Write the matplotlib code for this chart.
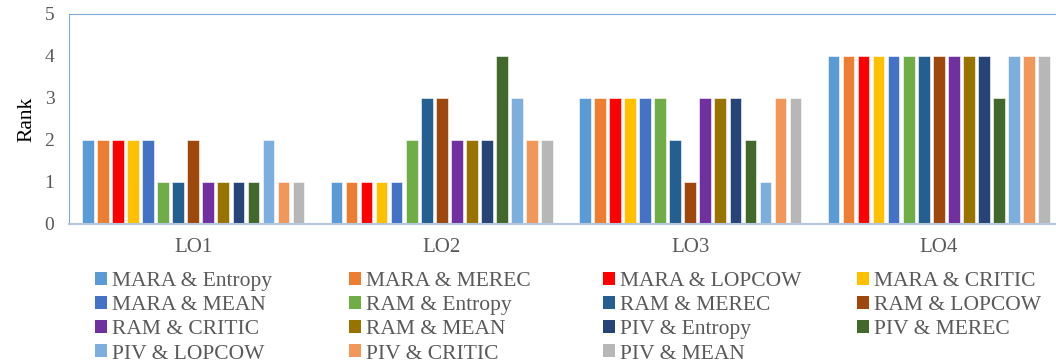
import matplotlib
matplotlib.use("Agg")
import matplotlib.pyplot as plt
import numpy as np
from matplotlib.patches import Patch

plt.rcParams["font.family"] = ["Liberation Serif", "DejaVu Serif"]

# data
groups = ["LO1", "LO2", "LO3", "LO4"]
series = ["MARA & Entropy", "MARA & MEREC", "MARA & LOPCOW", "MARA & CRITIC",
          "MARA & MEAN", "RAM & Entropy", "RAM & MEREC", "RAM & LOPCOW",
          "RAM & CRITIC", "RAM & MEAN", "PIV & Entropy", "PIV & MEREC",
          "PIV & LOPCOW", "PIV & CRITIC", "PIV & MEAN"]
lo1 = [2, 2, 2, 2, 2, 1, 1, 2, 1, 1, 1, 1, 2, 1, 1]
lo2 = [1, 1, 1, 1, 1, 2, 3, 3, 2, 2, 2, 4, 3, 2, 2]
lo3 = [3, 3, 3, 3, 3, 3, 2, 1, 3, 3, 3, 2, 1, 3, 3]
lo4 = [4, 4, 4, 4, 4, 4, 4, 4, 4, 4, 4, 3, 4, 4, 4]
colors = ["#5B9BD5", "#ED7D31", "#FF0000", "#FFC000", "#4472C4", "#70AD47",
          "#255E91", "#9E480E", "#7030A0", "#997300", "#264478", "#43682B",
          "#7CAFDD", "#F1975A", "#B7B7B7"]

values = np.array([lo1, lo2, lo3, lo4])  # groups x series
grey = "#595959"

fig = plt.figure(figsize=(10.56, 3.63), dpi=100)
ax = fig.add_axes([69 / 1056, 1 - 224 / 363, 994 / 1056, 210 / 363])

x = np.arange(len(groups))
slot = 0.0605
width = 0.047
n = len(series)
for i in range(n):
    off = (i - (n - 1) / 2) * slot
    ax.bar(x + off, values[:, i], width, color=colors[i],
           edgecolor="white", linewidth=0.4, label=series[i], zorder=2)

ax.set_xlim(-0.5, 3.5)
ax.set_ylim(0, 5)
ax.set_yticks(range(6))
ax.set_xticks(x)
ax.set_xticklabels(groups)
ax.tick_params(axis="x", length=0, pad=10, labelsize=15, labelcolor=grey)
ax.tick_params(axis="y", length=0, pad=14, labelsize=14, labelcolor=grey)
for lab in ax.get_yticklabels():
    lab.set_horizontalalignment("center")
ax.set_ylabel("Rank", fontsize=15.5, color="black", labelpad=6)

ax.spines["left"].set_color("#7EA9DA")
ax.spines["top"].set_color("#7EA9DA")
ax.spines["right"].set_visible(False)
ax.spines["bottom"].set_color("#B4C7DC")
ax.spines["bottom"].set_linewidth(1.5)

# legend, row-wise in 4 columns
col_x = [95, 349, 603, 857]
for c in range(4):
    idx = list(range(c, n, 4))
    handles = [Patch(facecolor=colors[k]) for k in idx]
    labels = [series[k] for k in idx]
    fig.legend(handles, labels, loc="upper left",
               bbox_to_anchor=(col_x[c] / 1056, 1 - 272 / 363),
               frameon=False, fontsize=15.5, labelcolor=grey,
               handlelength=0.55, handleheight=0.55, handletextpad=0.25,
               labelspacing=0.235, borderpad=0, borderaxespad=0)

fig.savefig("out.png", dpi=100)
